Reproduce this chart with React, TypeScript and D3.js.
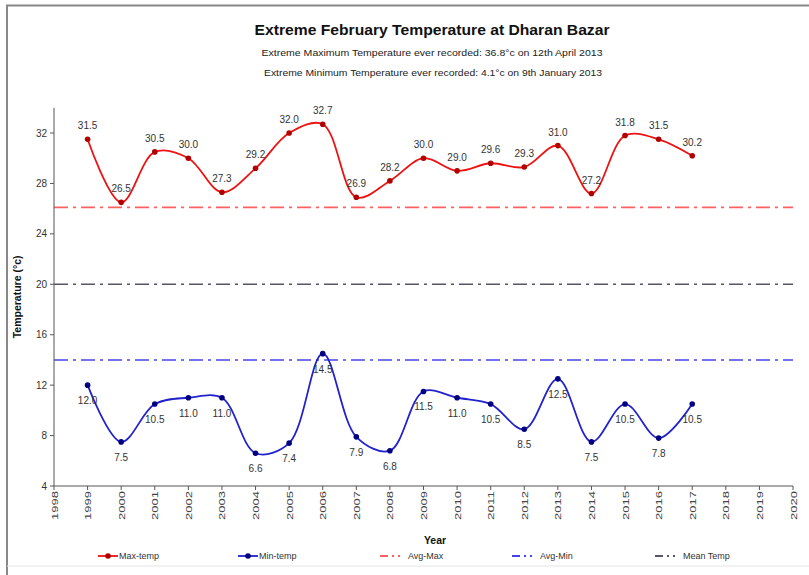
import React from "react";
import * as d3 from "d3";

const years = [1999, 2000, 2001, 2002, 2003, 2004, 2005, 2006, 2007, 2008, 2009, 2010, 2011, 2012, 2013, 2014, 2015, 2016, 2017];
const maxTemp = [31.5, 26.5, 30.5, 30.0, 27.3, 29.2, 32.0, 32.7, 26.9, 28.2, 30.0, 29.0, 29.6, 29.3, 31.0, 27.2, 31.8, 31.5, 30.2];
const minTemp = [12.0, 7.5, 10.5, 11.0, 11.0, 6.6, 7.4, 14.5, 7.9, 6.8, 11.5, 11.0, 10.5, 8.5, 12.5, 7.5, 10.5, 7.8, 10.5];
const avgMax = 26.1;
const avgMin = 14.0;
const meanTemp = 20.0;
const yTicks = [4, 8, 12, 16, 20, 24, 28, 32];
const xTicks = d3.range(1998, 2021);

const title = "Extreme February Temperature at Dharan Bazar";
const sub1 = "Extreme Maximum Temperature ever recorded: 36.8°c on 12th April 2013";
const sub2 = "Extreme Minimum Temperature ever recorded: 4.1°c on 9th January 2013";

const W = 809;
const H = 575;
const FONT = "'Liberation Sans', Arial, sans-serif";

export default function App() {
  const x = d3.scaleLinear().domain([1998, 2020]).range([54, 793]);
  const y = d3.scaleLinear().domain([4, 34]).range([486, 107.8]);
  const line = d3
    .line<[number, number]>()
    .x((d) => x(d[0]))
    .y((d) => y(d[1]))
    .curve(d3.curveCatmullRom.alpha(0.5));
  const maxPts = years.map((yr, i) => [yr, maxTemp[i]] as [number, number]);
  const minPts = years.map((yr, i) => [yr, minTemp[i]] as [number, number]);
  const dash = "14 5 3 5";
  const red = "#ee1111";
  const blue = "#2222cc";

  const legend = [
    { x0: 98, label: "Max-temp", color: red, dot: "#b00000", dashed: false },
    { x0: 238, label: "Min-temp", color: blue, dot: "#000080", dashed: false },
    { x0: 380, label: "Avg-Max", color: "#ff6060", dot: null, dashed: true },
    { x0: 512, label: "Avg-Min", color: "#4444ee", dot: null, dashed: true },
    { x0: 655, label: "Mean Temp", color: "#555566", dot: null, dashed: true },
  ];

  return (
    <svg width={W} height={H} style={{ position: "absolute", left: 0, top: 0, background: "#fff" }} fontFamily={FONT}>
      <rect x={0} y={0} width={W} height={H} fill="#fff" />
      {/* border */}
      <line x1={6} y1={5.5} x2={W} y2={5.5} stroke="#888" strokeWidth={2} />
      <line x1={7} y1={5} x2={7} y2={H} stroke="#888" strokeWidth={2} />
      <line x1={7} y1={566} x2={W} y2={566} stroke="#e4e4e4" strokeWidth={1} />

      {/* titles */}
      <text x={432} y={35} textAnchor="middle" fontWeight="bold" fontSize={14.5} fill="#111" textLength={355} lengthAdjust="spacingAndGlyphs">{title}</text>
      <text x={432} y={55.5} textAnchor="middle" fontSize={9.5} fill="#222" textLength={341} lengthAdjust="spacingAndGlyphs">{sub1}</text>
      <text x={433} y={75.5} textAnchor="middle" fontSize={9.5} fill="#222" textLength={338} lengthAdjust="spacingAndGlyphs">{sub2}</text>

      {/* reference lines */}
      <line x1={x(1998)} x2={x(2020)} y1={y(avgMax)} y2={y(avgMax)} stroke="#ff6060" strokeWidth={1.6} strokeDasharray={dash} />
      <line x1={x(1998)} x2={x(2020)} y1={y(meanTemp)} y2={y(meanTemp)} stroke="#555566" strokeWidth={1.6} strokeDasharray={dash} />
      <line x1={x(1998)} x2={x(2020)} y1={y(avgMin)} y2={y(avgMin)} stroke="#4444ee" strokeWidth={1.6} strokeDasharray={dash} />

      {/* axes */}
      <line x1={x(1998)} x2={x(1998)} y1={y(34)} y2={y(4)} stroke="#555" strokeWidth={1} />
      <line x1={x(1998)} x2={x(2020)} y1={y(4)} y2={y(4)} stroke="#555" strokeWidth={1} />
      {yTicks.map((t) => (
        <g key={"y" + t}>
          <line x1={x(1998) - 4} x2={x(1998)} y1={y(t)} y2={y(t)} stroke="#555" />
          <text x={x(1998) - 7} y={y(t) + 3.5} textAnchor="end" fontSize={10} fill="#333">{t}</text>
        </g>
      ))}
      {xTicks.map((t) => (
        <g key={"x" + t}>
          <line x1={x(t)} x2={x(t)} y1={y(4)} y2={y(4) + 4} stroke="#555" />
          <text
            transform={`translate(${x(t) + 3.5},${y(4) + 5}) rotate(-90)`}
            textAnchor="end"
            fontSize={9.5}
            fill="#444"
            textLength={29}
            lengthAdjust="spacingAndGlyphs"
          >
            {t}
          </text>
        </g>
      ))}
      <text x={435} y={544} textAnchor="middle" fontWeight="bold" fontSize={10.5} fill="#111">Year</text>
      <text transform={`translate(21,${y(19)}) rotate(-90)`} textAnchor="middle" fontWeight="bold" fontSize={10.5} fill="#111">
        Temperature (°c)
      </text>

      {/* series */}
      <path d={line(maxPts) || ""} fill="none" stroke={red} strokeWidth={1.8} />
      <path d={line(minPts) || ""} fill="none" stroke={blue} strokeWidth={1.8} />
      {maxPts.map((p, i) => (
        <g key={"mx" + i}>
          <circle cx={x(p[0])} cy={y(p[1])} r={2.8} fill="#b00000" />
          <text x={x(p[0])} y={y(p[1]) - 10} textAnchor="middle" fontSize={10} fill="#333">{p[1].toFixed(1)}</text>
        </g>
      ))}
      {minPts.map((p, i) => (
        <g key={"mn" + i}>
          <circle cx={x(p[0])} cy={y(p[1])} r={2.8} fill="#000080" />
          <text x={x(p[0])} y={y(p[1]) + 19} textAnchor="middle" fontSize={10} fill="#333">{p[1].toFixed(1)}</text>
        </g>
      ))}

      {/* legend */}
      {legend.map((l) => (
        <g key={l.label}>
          <line
            x1={l.x0}
            x2={l.x0 + 20}
            y1={556}
            y2={556}
            stroke={l.color}
            strokeWidth={1.8}
            strokeDasharray={l.dashed ? "8 4 2 4" : undefined}
          />
          {l.dot && <circle cx={l.x0 + 10} cy={556} r={2.8} fill={l.dot} />}
          <text x={l.x0 + (l.dashed ? 28 : 21)} y={559} fontSize={9} fill="#333">{l.label}</text>
        </g>
      ))}
    </svg>
  );
}
